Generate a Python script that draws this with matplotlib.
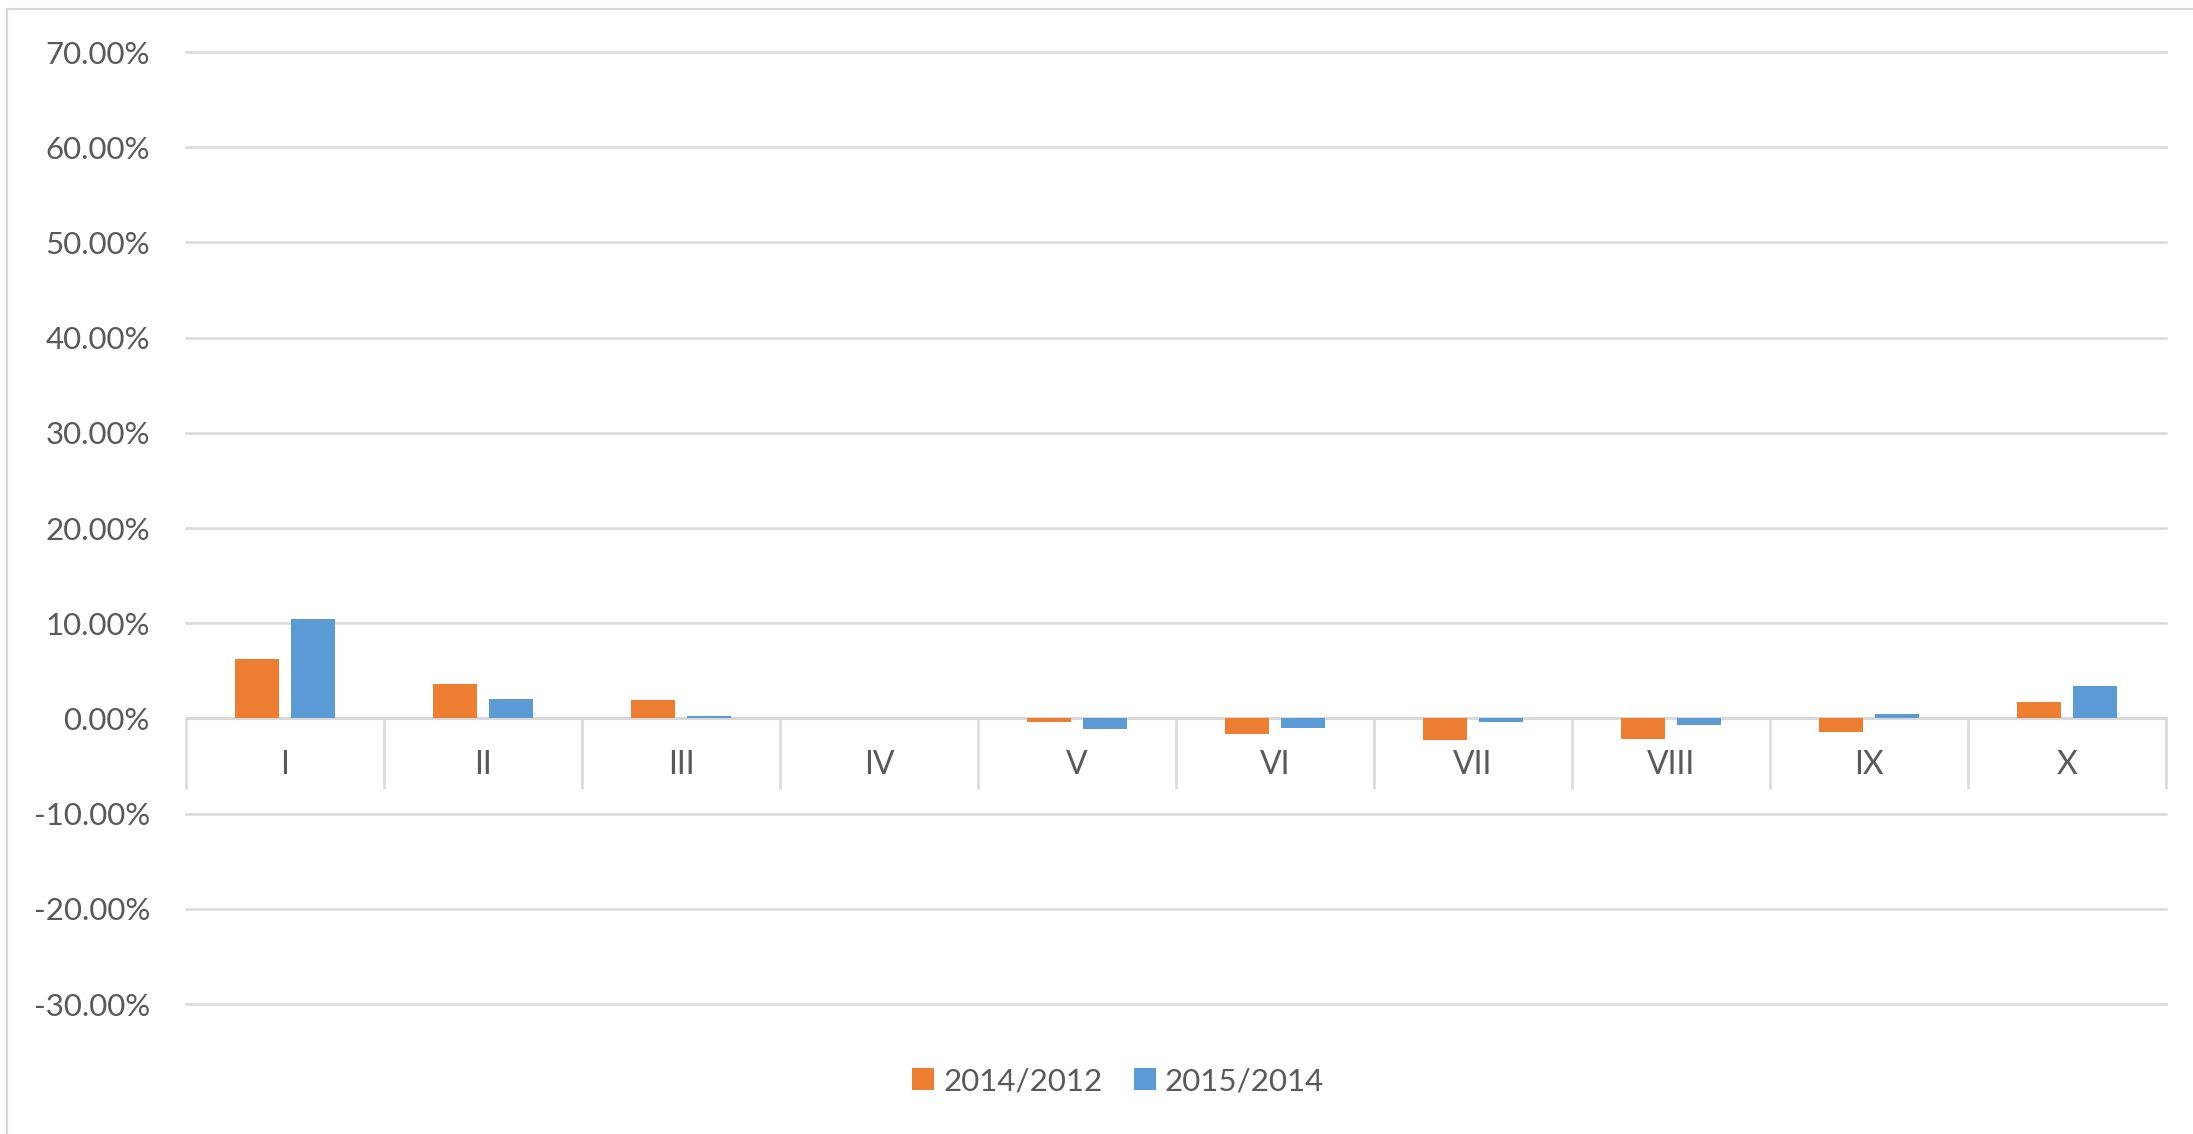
import matplotlib.pyplot as plt
import matplotlib.patches as mpatches
import numpy as np

plt.rcParams['font.family'] = ['Lato', 'DejaVu Sans']

categories = ['I', 'II', 'III', 'IV', 'V', 'VI', 'VII', 'VIII', 'IX', 'X']
s_2014_2012 = [6.2, 3.65, 1.9, 0.0, -0.4, -1.6, -2.3, -2.2, -1.45, 1.7]
s_2015_2014 = [10.4, 2.0, 0.2, 0.0, -1.1, -1.0, -0.4, -0.65, 0.45, 3.4]
series_names = ['2014/2012', '2015/2014']
yticks = [-30, -20, -10, 0, 10, 20, 30, 40, 50, 60, 70]

orange = '#ED7D31'
blue = '#5B9BD5'
grid = '#D9D9D9'
txt = '#595959'

W, H = 2193, 1134
fig = plt.figure(figsize=(W / 100, H / 100), dpi=100)
ax = fig.add_axes([186 / W, 1 - 1004 / H, (2166 - 186) / W, (1004 - 52) / H])

# outer chart border
fig.patches.append(mpatches.Rectangle((7 / W, -0.1), 1.2, 1 - 9 / H + 0.1,
                                      transform=fig.transFigure, fill=False,
                                      edgecolor=grid, linewidth=1.5))

x = np.arange(len(categories))
w = 0.226
ax.bar(x - 0.141, s_2014_2012, w, color=orange, label=series_names[0], zorder=3)
ax.bar(x + 0.141, s_2015_2014, w, color=blue, label=series_names[1], zorder=3)

ax.set_xlim(-0.5, len(categories) - 0.5)
ax.set_ylim(-30, 70)
ax.set_yticks(yticks)
ax.set_yticklabels(['%.2f%%' % v for v in yticks])
for v in yticks:
    ax.axhline(v, color=grid, linewidth=1.8, zorder=1, clip_on=False)
ax.axhline(0, color=grid, linewidth=2.2, zorder=2)

# category separators and labels below the zero line
ax.vlines(np.arange(len(categories) + 1) - 0.5, -7.4, 0, color=grid, linewidth=1.8,
          zorder=1, clip_on=False)
for i, c in enumerate(categories):
    ax.text(i, -4.9, c, ha='center', va='center', fontsize=23, color=txt)

ax.set_xticks([])
ax.tick_params(axis='y', length=0, pad=26, labelsize=22.5, labelcolor=txt)
for s in ax.spines.values():
    s.set_visible(False)

fig.legend(loc='center', bbox_to_anchor=(1118 / W, 1 - 1081 / H), ncol=2,
           frameon=False, fontsize=22.5, labelcolor=txt, handlelength=0.7,
           handleheight=0.7, handletextpad=0.3, columnspacing=1.0)

fig.savefig('out.png', dpi=100)
